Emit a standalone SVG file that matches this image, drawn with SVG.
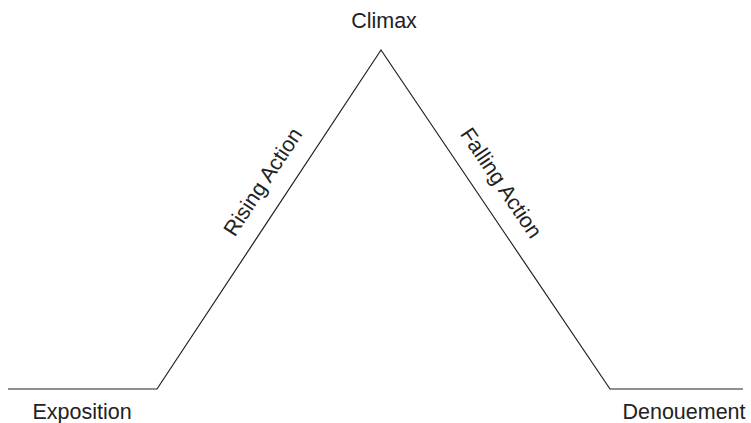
<svg xmlns="http://www.w3.org/2000/svg" width="751" height="423" viewBox="0 0 751 423">
<style>
text{font-family:"Liberation Sans",Arial,sans-serif;font-size:21.5px;fill:#222}
.ln{fill:none;stroke:#222;stroke-width:1.2}
</style>
<rect width="751" height="423" fill="#fff"/>
<g id="connectors">
<polyline class="ln" points="8,389 157,389 381,50 610,389 743,389"/>
</g>
<g id="climax"><text x="384" y="28" text-anchor="middle">Climax</text></g>
<g id="exposition"><text x="82" y="419" text-anchor="middle">Exposition</text></g>
<g id="denouement"><text x="684" y="419" text-anchor="middle">Denouement</text></g>
<g id="rising"><text transform="translate(263,182) rotate(-56.6)" y="7" text-anchor="middle">Rising Action</text></g>
<g id="falling"><text transform="translate(501,183) rotate(56)" y="7" text-anchor="middle">Falling Action</text></g>
</svg>
